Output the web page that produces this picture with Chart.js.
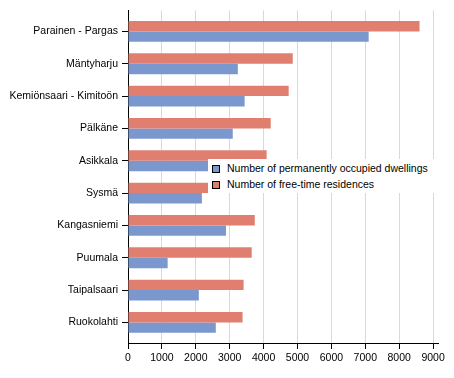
<!DOCTYPE html>
<html>
<head>
<meta charset="utf-8">
<script src="https://cdn.jsdelivr.net/npm/chart.js@4/dist/chart.umd.min.js"></script>
<style>
  body { margin: 0; background: #fff; }
  #wrap { position: relative; width: 454px; height: 378px; }
  #legend {
    position: absolute; left: 208px; top: 159px; width: 246px; height: 34px;
    background: #fff; font: 10.5px "Liberation Sans", Arial, sans-serif; color: #000;
  }
  .item { position: absolute; left: 0; height: 12px; white-space: nowrap; }
  .box { position: absolute; left: 4px; top: 2px; width: 6px; height: 6px; border: 1px solid #000; }
  .txt { position: absolute; left: 19px; top: -1px; line-height: 12px; }
</style>
</head>
<body>
<div id="wrap">
  <canvas id="chart" width="454" height="378"></canvas>
  <div id="legend"></div>
</div>
<script>
const municipalities = ['Parainen - Pargas', 'Mäntyharju', 'Kemiönsaari - Kimitoön', 'Pälkäne', 'Asikkala',
    'Sysmä', 'Kangasniemi', 'Puumala', 'Taipalsaari', 'Ruokolahti'];
const permanentDwellings = [7100, 3240, 3440, 3090, 2400, 2180, 2890, 1170, 2090, 2590];
const freeTimeResidences = [8600, 4860, 4740, 4210, 4090, 2500, 3740, 3650, 3410, 3380];
const xTicks = [0, 1000, 2000, 3000, 4000, 5000, 6000, 7000, 8000, 9000];

const seriesNames = ['Number of permanently occupied dwellings', 'Number of free-time residences'];
const blue = '#7b98ce';
const red = '#e07f70';

const toPoints = values => values.map((v, i) => ({ x: v, y: i }));

const ctx = document.getElementById('chart').getContext('2d');
new Chart(ctx, {
    type: 'bar',
    data: {
        datasets: [
            { label: seriesNames[1], data: toPoints(freeTimeResidences), backgroundColor: red },
            { label: seriesNames[0], data: toPoints(permanentDwellings), backgroundColor: blue }
        ]
    },
    options: {
        indexAxis: 'y',
        responsive: false,
        animation: false,
        categoryPercentage: 0.645,
        barPercentage: 1,
        layout: { padding: { top: 8, right: 16, left: 0, bottom: 0 } },
        scales: {
            x: {
                type: 'linear',
                position: 'bottom',
                min: 0,
                max: 9145,
                afterFit: s => { s.height = 35; },
                afterBuildTicks: s => { s.ticks = xTicks.map(v => ({ value: v })); },
                ticks: {
                    color: '#000',
                    padding: 3,
                    font: { family: 'Liberation Sans, Arial', size: 10.5 },
                    callback: v => String(v)
                },
                grid: { color: '#d9d9d9', tickColor: '#000', tickLength: 6 },
                border: { color: '#000' }
            },
            y: {
                type: 'linear',
                reverse: true,
                offset: false,
                min: -0.654,
                max: 9.636,
                afterFit: s => { s.width = 128; },
                afterBuildTicks: s => { s.ticks = municipalities.map((_, i) => ({ value: i })); },
                ticks: {
                    autoSkip: false,
                    color: '#000',
                    padding: 4,
                    font: { family: 'Liberation Sans, Arial', size: 10.5 },
                    callback: v => municipalities[v] ?? ''
                },
                grid: { offset: false, drawOnChartArea: false, color: '#000', tickLength: 6 },
                border: { color: '#000' }
            }
        },
        plugins: {
            legend: { display: false },
            tooltip: { enabled: false }
        }
    }
});

// legend sits over the plot, like in the original
const legendEl = document.getElementById('legend');
[[seriesNames[0], blue], [seriesNames[1], red]].forEach(([name, color], i) => {
    const item = document.createElement('div');
    item.className = 'item';
    item.style.top = (4 + i * 16) + 'px';
    item.innerHTML = `<span class="box" style="background:${color}"></span><span class="txt">${name}</span>`;
    legendEl.appendChild(item);
});
</script>
</body>
</html>
